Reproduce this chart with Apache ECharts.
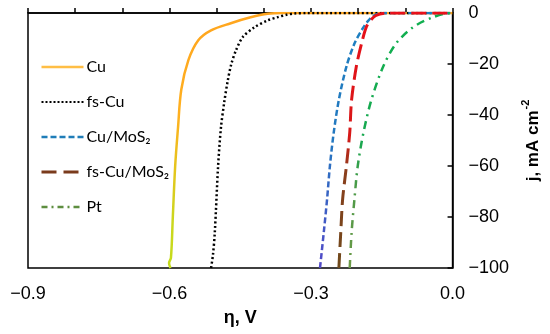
<!DOCTYPE html>
<html>
<head>
<meta charset="utf-8">
<script src="https://cdn.jsdelivr.net/npm/echarts@6/dist/echarts.min.js"></script>
<style>
html,body{margin:0;padding:0;background:#fff;}
#c{width:550px;height:334px;}
</style>
</head>
<body>
<div id="c"></div>
<script>
// Overpotential (V) and current density (mA cm^-2) for each electrode
var cuEta = [-0.598, -0.601, -0.597, -0.593, -0.588, -0.582, -0.575, -0.560, -0.539, -0.512, -0.470, -0.428, -0.392, -0.360, 0.0];
var cuJ   = [-100, -98, -96, -80, -60, -45, -30, -18.5, -10.7, -6.8, -4.0, -1.7, -0.3, 0, 0];

var fsCuEta = [-0.512, -0.508, -0.504, -0.497, -0.491, -0.484, -0.477, -0.469, -0.459, -0.445, -0.420, -0.392, -0.372, -0.352, -0.335, -0.310, 0.0];
var fsCuJ   = [-100, -95, -86, -60, -45, -35, -27, -20, -14.6, -9.5, -5.6, -2.9, -1.7, -0.7, -0.2, 0, 0];

var cuMoS2Eta = [-0.281, -0.273, -0.266, -0.260, -0.252, -0.241, -0.225, -0.208, -0.189, -0.178, -0.166, -0.147, 0.0];
var cuMoS2J   = [-100, -86, -73, -60, -47, -34, -21, -12, -5.6, -2.9, -0.9, 0, 0];

var fsCuMoS2Eta = [-0.241, -0.237, -0.233, -0.225, -0.218, -0.214, -0.204, -0.193, -0.183, -0.174, -0.162, -0.134, 0.0];
var fsCuMoS2J   = [-100, -86, -73, -60, -47, -34, -21, -12, -5.6, -2.9, -0.9, 0, 0];

var ptEta = [-0.218, -0.214, -0.208, -0.201, -0.189, -0.172, -0.147, -0.120, -0.084, -0.042, -0.004, 0.0];
var ptJ   = [-100, -86, -73, -60, -47, -34, -21, -12, -5.6, -1.7, 0, 0];

var seriesNames = ['Cu', 'fs-Cu', 'Cu/MoS\u2082', 'fs-Cu/MoS\u2082', 'Pt'];
var xTickLabels = ['\u22120.9', '\u22120.6', '\u22120.3', '0.0'];

function zip(a, b) { return a.map(function (v, i) { return [v, b[i]]; }); }
function grad(stops) {
  return {type: 'linear', x: 0, y: 0, x2: 0, y2: 1,
          colorStops: stops.map(function (s) { return {offset: s[0], color: s[1]}; })};
}

var chart = echarts.init(document.getElementById('c'));
var tickFont = 'Liberation Sans, Arial, sans-serif';
var hidden = {opacity: 0};
chart.setOption({
  animation: false,
  backgroundColor: '#fff',
  grid: {left: 28, right: 93, top: 13, bottom: 66, show: true, borderColor: '#000', borderWidth: 1.5, backgroundColor: 'transparent'},
  legend: {
    orient: 'vertical', left: 40, top: 57, padding: 0, itemWidth: 42, itemHeight: 14, itemGap: 15,
    textStyle: {fontFamily: 'Lato, sans-serif', fontSize: 16, color: '#000', lineHeight: 20, padding: [0, 0, 0, -2]},
    data: [
      {name: seriesNames[0], itemStyle: hidden, lineStyle: {color: '#FFBE45', width: 2.5, type: 'solid'}},
      {name: seriesNames[1], itemStyle: hidden, lineStyle: {color: '#000', width: 2, type: [2, 2]}},
      {name: seriesNames[2], itemStyle: hidden, lineStyle: {color: '#1F7DB8', width: 2.5, type: [6, 3]}},
      {name: seriesNames[3], itemStyle: hidden, lineStyle: {color: '#7A3B1C', width: 3, type: [15, 7]}},
      {name: seriesNames[4], itemStyle: hidden, lineStyle: {color: '#5E8E40', width: 2.5, type: [6, 4, 2, 4]}}
    ]
  },
  xAxis: {
    type: 'value', min: -0.9, max: 0, interval: 0.1,
    name: '\u03b7, V', nameLocation: 'middle', nameGap: 41,
    nameTextStyle: {fontFamily: tickFont, fontSize: 18, fontWeight: 'bold', color: '#000'},
    axisLine: {show: true, lineStyle: {color: '#000', width: 1.5}},
    axisTick: {show: true, inside: true, length: 5, lineStyle: {color: '#000', width: 1.5}},
    splitLine: {show: false},
    axisLabel: {
      margin: 17, fontFamily: tickFont, fontSize: 18, color: '#000',
      formatter: function (v) {
        var k = Math.round((v + 0.9) * 10);
        if (k % 3 !== 0) return '';
        return xTickLabels[k / 3];
      }
    }
  },
  yAxis: {
    type: 'value', position: 'right', min: -100, max: 0, interval: 20,
    name: '{a|j, mA cm}{s|-2}', nameLocation: 'middle', nameGap: 66, nameRotate: 90,
    nameTextStyle: {
      rich: {
        a: {fontFamily: tickFont, fontSize: 17, fontWeight: 'bold', color: '#000', lineHeight: 22, verticalAlign: 'bottom'},
        s: {fontFamily: tickFont, fontSize: 11, fontWeight: 'bold', color: '#000', lineHeight: 22, verticalAlign: 'top', padding: [0, 0, 8, 1]}
      }
    },
    axisLine: {show: true, lineStyle: {color: '#000', width: 1.5}},
    axisTick: {show: true, inside: true, length: 5, lineStyle: {color: '#000', width: 1.5}},
    splitLine: {show: false},
    axisLabel: {
      margin: 16, align: 'left', fontFamily: tickFont, fontSize: 18, color: '#000',
      formatter: function (v) { return v === 0 ? '0' : '\u2212' + Math.abs(v); }
    }
  },
  series: [
    {name: seriesNames[0], type: 'line', symbol: 'none', smooth: 0.35, z: 3, data: zip(cuEta, cuJ),
     itemStyle: {color: '#FFBE45'},
     lineStyle: {width: 2.5, color: grad([[0, '#FFA51E'], [0.4, '#FFB020'], [0.6, '#E6C41C'], [0.8, '#CCD61E'], [1, '#C4DC1A']])}},
    {name: seriesNames[1], type: 'line', symbol: 'none', smooth: 0.3, z: 3, data: zip(fsCuEta, fsCuJ),
     itemStyle: {color: '#000'},
     lineStyle: {width: 2.5, color: '#000', type: [2, 2.5]}},
    {name: seriesNames[2], type: 'line', symbol: 'none', smooth: 0.3, z: 3, data: zip(cuMoS2Eta, cuMoS2J),
     itemStyle: {color: '#1F7DB8'},
     lineStyle: {width: 2.5, color: grad([[0, '#1C80C0'], [0.5, '#2478C0'], [0.75, '#3C60C4'], [1, '#5448C8']]), type: [6, 3]}},
    {name: seriesNames[3], type: 'line', symbol: 'none', smooth: 0.3, z: 4, data: zip(fsCuMoS2Eta, fsCuMoS2J),
     itemStyle: {color: '#7A3B1C'},
     lineStyle: {width: 3, color: grad([[0, '#E8101A'], [0.48, '#D81818'], [0.62, '#8A3E1C'], [1, '#6E4A1C']]), type: [15, 6]}},
    {name: seriesNames[4], type: 'line', symbol: 'none', smooth: 0.3, z: 3, data: zip(ptEta, ptJ),
     itemStyle: {color: '#5E8E40'},
     lineStyle: {width: 2.5, color: grad([[0, '#10B050'], [0.5, '#18A850'], [0.68, '#4C9A48'], [1, '#6E9A48']]), type: [8, 5, 2, 5]}}
  ]
});
</script>
</body>
</html>
